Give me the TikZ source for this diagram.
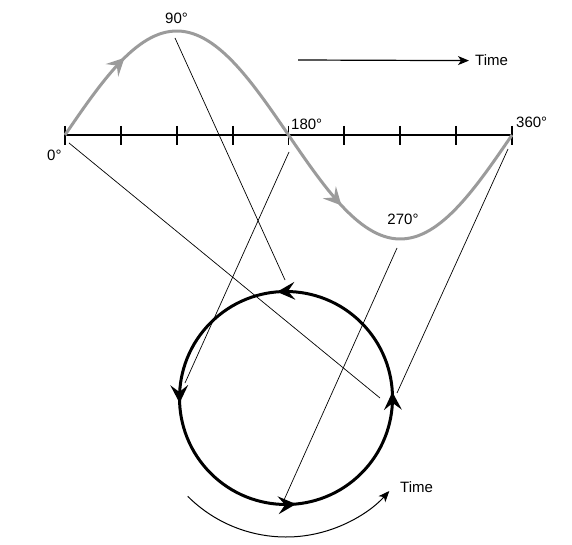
\documentclass[tikz,border=0pt]{standalone}
\usepackage{fontspec}
\setmainfont{Liberation Sans}
\usetikzlibrary{arrows.meta,decorations.markings}
\definecolor{wavegray}{RGB}{155,155,155}

\begin{document}
\begin{tikzpicture}[x=1pt, y=1pt, >=Stealth, line join=round,
   font=\fontsize{15}{18}\selectfont,
   lbl/.style={inner sep=0pt},
   proj/.style={line width=0.7pt},
   timearrow/.style={line width=1.2pt, -{Stealth[length=11pt,width=9pt,inset=3pt]}},
   /pgf/decoration/head/.style={mark=at position #1 with {\fill (3pt,0pt) -- (-15pt,9pt) -- (-8pt,0pt) -- (-15pt,-9pt) -- cycle;}},
   wave/.style={wavegray, line width=3pt, postaction={decorate},
      decoration={markings, head=0.15, head=0.635}},
   wheel/.style={line width=3pt, postaction={decorate},
      decoration={markings, head=0.1295, head=0.384, head=0.628, head=0.8855}}]
   \useasboundingbox (-65,135) rectangle (507,-410);

   % time axis with degree marks
   \draw[line width=1.8pt] (0,0) -- (447,0);
   \foreach \i in {0,...,8}
      \draw[line width=1.8pt] ({\i*55.875},9) -- ({\i*55.875},-10);
   \node[lbl, anchor=base west] (l0) at (-18,-26) {0°};
   \node[lbl, anchor=base] (l90) at (111.5,111.5) {90°};
   \node[lbl, anchor=base west] (l180) at (226,5.5) {180°};
   \node[lbl, anchor=base] (l270) at (338,-89.5) {270°};
   \node[lbl, anchor=base west] (l360) at (451,7) {360°};

   % sine wave
   \draw[wave] plot[domain=0:360, samples=120] ({1.241667*\x},{104*sin(\x)});

   % time arrow (top)
   \node[lbl, anchor=base west] (timetop) at (410,69) {Time};
   \coordinate (tstart) at (233,75);
   \draw[timearrow, shorten >=6pt] (tstart) -- (timetop.west);

   % rotating vector circle
   \coordinate (ctr) at (221,-263);
   \draw[wheel] (ctr) ++(-45:106.5) arc[start angle=-45, end angle=315, radius=106.5];

   % projection lines
   \coordinate (p0) at (4,-8);     \coordinate (q0) at (315,-263);
   \coordinate (p90) at (110,97);  \coordinate (q90) at (220,-145);
   \coordinate (p180) at (224,-17); \coordinate (q180) at (120,-248);
   \coordinate (p270) at (332,-113); \coordinate (q270) at (219,-365);
   \coordinate (p360) at (443,-14); \coordinate (q360) at (332,-258);
   \foreach \a in {0,90,180,270,360}
      \draw[proj] (p\a) -- (q\a);

   % time arrow (bottom)
   \node[lbl, anchor=base west] (timebot) at (335,-357) {Time};
   \draw[line width=1pt, -{Stealth[length=11pt,width=9pt,inset=3pt]}]
      (ctr) ++(225:139) arc[start angle=225, end angle=318, radius=139];
\end{tikzpicture}
\end{document}
